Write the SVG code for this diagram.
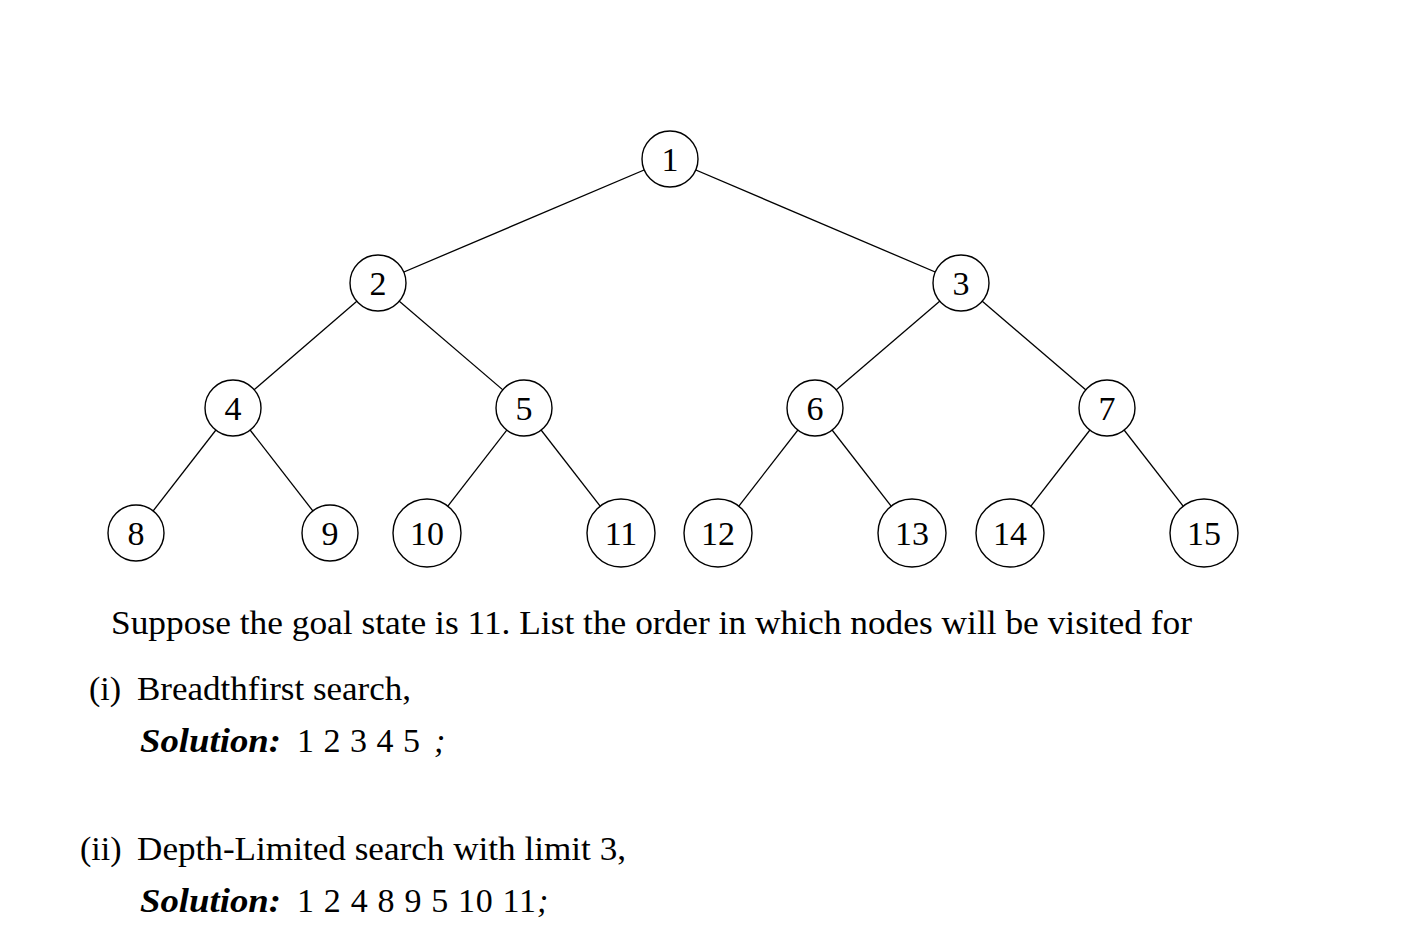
<svg xmlns="http://www.w3.org/2000/svg" width="1408" height="941" viewBox="0 0 1408 941">
<style>
.edge{stroke:#000;stroke-width:1.3;fill:none}
.node circle{fill:#fff;stroke:#000;stroke-width:1.4}
.node text,.t{font-family:"Liberation Serif","DejaVu Serif",serif;font-size:34px;fill:#000}
.node text{text-anchor:middle}
.sol{font-style:italic;font-weight:bold}
.it{font-style:italic}
</style>
<rect width="1408" height="941" fill="#fff"/>
<g id="connectors">
<line class="edge" x1="670" y1="159" x2="378" y2="283"/>
<line class="edge" x1="670" y1="159" x2="961" y2="283"/>
<line class="edge" x1="378" y1="283" x2="233" y2="408"/>
<line class="edge" x1="378" y1="283" x2="524" y2="408"/>
<line class="edge" x1="961" y1="283" x2="815" y2="408"/>
<line class="edge" x1="961" y1="283" x2="1107" y2="408"/>
<line class="edge" x1="233" y1="408" x2="136" y2="533"/>
<line class="edge" x1="233" y1="408" x2="330" y2="533"/>
<line class="edge" x1="524" y1="408" x2="427" y2="533"/>
<line class="edge" x1="524" y1="408" x2="621" y2="533"/>
<line class="edge" x1="815" y1="408" x2="718" y2="533"/>
<line class="edge" x1="815" y1="408" x2="912" y2="533"/>
<line class="edge" x1="1107" y1="408" x2="1010" y2="533"/>
<line class="edge" x1="1107" y1="408" x2="1204" y2="533"/>
</g>
<g id="n1" class="node"><circle cx="670" cy="159" r="28"/><text x="670" y="170.5">1</text></g>
<g id="n2" class="node"><circle cx="378" cy="283" r="28"/><text x="378" y="294.5">2</text></g>
<g id="n3" class="node"><circle cx="961" cy="283" r="28"/><text x="961" y="294.5">3</text></g>
<g id="n4" class="node"><circle cx="233" cy="408" r="28"/><text x="233" y="419.5">4</text></g>
<g id="n5" class="node"><circle cx="524" cy="408" r="28"/><text x="524" y="419.5">5</text></g>
<g id="n6" class="node"><circle cx="815" cy="408" r="28"/><text x="815" y="419.5">6</text></g>
<g id="n7" class="node"><circle cx="1107" cy="408" r="28"/><text x="1107" y="419.5">7</text></g>
<g id="n8" class="node"><circle cx="136" cy="533" r="28"/><text x="136" y="544.5">8</text></g>
<g id="n9" class="node"><circle cx="330" cy="533" r="28"/><text x="330" y="544.5">9</text></g>
<g id="n10" class="node"><circle cx="427" cy="533" r="34"/><text x="427" y="544.5">10</text></g>
<g id="n11" class="node"><circle cx="621" cy="533" r="34"/><text x="621" y="544.5">11</text></g>
<g id="n12" class="node"><circle cx="718" cy="533" r="34"/><text x="718" y="544.5">12</text></g>
<g id="n13" class="node"><circle cx="912" cy="533" r="34"/><text x="912" y="544.5">13</text></g>
<g id="n14" class="node"><circle cx="1010" cy="533" r="34"/><text x="1010" y="544.5">14</text></g>
<g id="n15" class="node"><circle cx="1204" cy="533" r="34"/><text x="1204" y="544.5">15</text></g>
<g id="question">
<text class="t" x="111" y="634" textLength="1081" lengthAdjust="spacingAndGlyphs">Suppose the goal state is 11. List the order in which nodes will be visited for</text>
<text class="t" x="89" y="700">(i)</text>
<text class="t" x="137" y="700" textLength="274" lengthAdjust="spacingAndGlyphs">Breadthfirst search,</text>
<text class="t sol" x="140" y="752" textLength="141" lengthAdjust="spacingAndGlyphs">Solution:</text>
<text class="t" x="297" y="752" textLength="123" lengthAdjust="spacing">1 2 3 4 5</text>
<text class="t it" x="434" y="752">;</text>
<text class="t" x="80" y="860">(ii)</text>
<text class="t" x="137" y="860" textLength="489" lengthAdjust="spacingAndGlyphs">Depth-Limited search with limit 3,</text>
<text class="t sol" x="140" y="912" textLength="141" lengthAdjust="spacingAndGlyphs">Solution:</text>
<text class="t" x="297" y="912" textLength="239" lengthAdjust="spacing">1 2 4 8 9 5 10 11</text>
<text class="t it" x="537" y="912">;</text>
</g>
</svg>
